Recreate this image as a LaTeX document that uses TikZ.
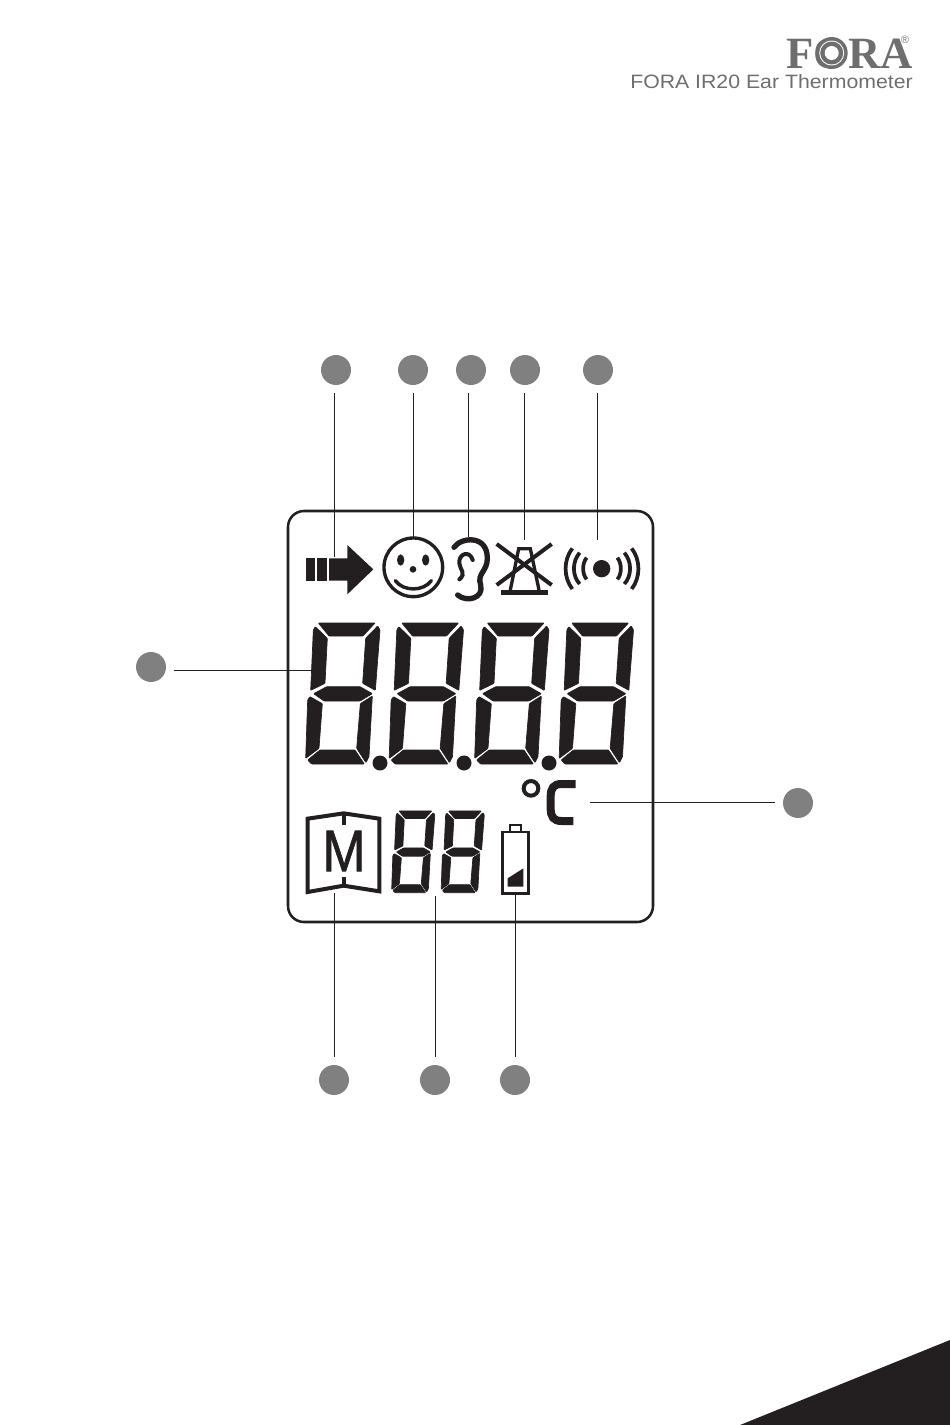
\documentclass[tikz,border=0pt]{standalone}
\usepackage{fontspec}
\setmainfont{Liberation Sans}
\newfontfamily\logofont{Liberation Serif}
\newfontfamily\lcdfont[FakeBold=1.2]{Liberation Sans}
\usetikzlibrary{positioning}
\definecolor{lcdblack}{HTML}{231F20}
\definecolor{logogray}{HTML}{6E6E6E}
\definecolor{markgray}{HTML}{808080}
\tikzset{
    callout/.style={circle, fill=markgray, minimum size=22.5pt, inner sep=0pt, outer sep=6pt},
    leader/.style={draw=lcdblack, line width=0.6pt},
    segment/.style={fill=lcdblack, draw=lcdblack, line width=0.5pt, rounded corners=0.5pt},
    icon/.style={draw=lcdblack, line width=2.5pt}
}
\newcommand{\lcddigit}[3]{
    \begin{scope}[shift={(#1,#2)}, x=0.25pt, y=-0.25pt, scale=#3]
        \path [segment] (70,39) -- (240,39) -- (204,78) -- (102,78) -- cycle;
        \path [segment] (61,50) -- (97,85) -- (90,220) -- (47,241) -- (55,60) -- cycle;
        \path [segment] (248,48) -- (255,60) -- (241,241) -- (203,220) -- (212,85) -- cycle;
        \path [segment] (56,251) -- (95,230) -- (195,230) -- (232,251) -- (195,273) -- (87,273) -- cycle;
        \path [segment] (45,260) -- (82,281) -- (72,415) -- (32,445) -- (38,270) -- cycle;
        \path [segment] (232,258) -- (196,281) -- (185,415) -- (213,458) -- (222,440) -- cycle;
        \path [segment] (38,450) -- (75,420) -- (180,420) -- (208,462) -- (50,462) -- cycle;
    \end{scope}
}
\begin{document}
\begin{tikzpicture}[x=0.75pt, y=-0.75pt]
    \useasboundingbox (0,0) rectangle (950,1425);

    \fill [lcdblack] (740,1425) -- (950,1340) -- (950,1425) -- cycle;

    \node [font=\logofont\bfseries\fontsize{33.5}{33.5}\selectfont, text=logogray, inner sep=0pt, anchor=base east] (Nlogo) at (913,68) {FORA};
    \fill [logogray] (831.7,53) circle (16);
    \fill [white] (831.7,53) circle (12.5);
    \fill [logogray] (831.7,53) circle (11.5);
    \fill [white] (831.7,53) circle (7);
    \node [font=\fontsize{8}{8}\selectfont, text=logogray, inner sep=0pt] (Nreg) at (905,40) {®};
    \node [xscale=1.1, font=\fontsize{14.5}{14.5}\selectfont, text=logogray, inner sep=0pt, anchor=base east] (Ntitle) at (913,88) {FORA IR20 Ear Thermometer};

    \draw [draw=lcdblack, line width=1.9pt, rounded corners=12pt] (288,511) rectangle (653,922);

    \lcddigit{295}{610}{1}
    \lcddigit{378.5}{610}{1}
    \lcddigit{464}{610}{1}
    \lcddigit{548.5}{610}{1}
    \fill [lcdblack] (380,763) circle (7.5);
    \fill [lcdblack] (464,763) circle (7.5);
    \fill [lcdblack] (549,763) circle (7.5);

    \lcddigit{385.5}{803.4}{0.58}
    \lcddigit{435}{803.4}{0.58}

    \begin{scope}[shift={(290,510)}, x=0.25pt, y=-0.25pt]
        \fill [lcdblack] (48,145) rectangle (76,212);
        \fill [lcdblack] (82,145) rectangle (111,212);
        \fill [lcdblack] (117,145) -- (172,145) -- (172,105) -- (250,178) -- (172,253) -- (172,212) -- (117,212) -- cycle;

        \draw [icon] (370,172) circle (88);
        \fill [lcdblack] (332,150) ellipse (11 and 17);
        \fill [lcdblack] (407,150) ellipse (11 and 17);
        \fill [lcdblack] (369,178) circle (10);
        \draw [icon, line width=2.6pt, line cap=round] (316,212) .. controls (340,245) and (400,245) .. (424,212);

        \draw [icon, line width=4pt, line cap=round] (492,112) .. controls (512,82) and (592,72) .. (592,145) .. controls (592,185) and (560,190) .. (572,225) .. controls (582,265) and (530,278) .. (503,255);
        \draw [icon, line width=3pt, line cap=round] (548,150) .. controls (540,120) and (505,130) .. (508,160) .. controls (510,180) and (530,190) .. (508,208);

        \draw [icon] (661,240) -- (686,116) -- (721,116) -- (747,240);
        \fill [lcdblack] (632,240) rectangle (775,254);
        \draw [icon, line width=3pt] (620,102) -- (785,225);
        \draw [icon, line width=3pt] (785,102) -- (620,225);

        \fill [lcdblack] (935,176) circle (26);
        \draw [icon, line width=2.8pt] (890,143) .. controls (876,160) and (876,192) .. (890,208);
        \draw [icon, line width=2.8pt] (869,128) .. controls (846,155) and (846,197) .. (869,222);
        \draw [icon, line width=2.8pt] (847,115) .. controls (820,150) and (820,202) .. (847,237);
        \draw [icon, line width=2.8pt] (982,143) .. controls (996,160) and (996,192) .. (982,208);
        \draw [icon, line width=2.8pt] (1003,128) .. controls (1026,155) and (1026,197) .. (1003,222);
        \draw [icon, line width=2.8pt] (1025,115) .. controls (1052,150) and (1052,202) .. (1025,237);
    \end{scope}

    \begin{scope}[shift={(295,770)}, x=0.25pt, y=-0.25pt]
        \draw [icon, line width=3pt] (708,55) circle (22);
        \draw [icon, line width=6pt] (842,42) -- (800,42) .. controls (775,42) and (767,55) .. (767,80) -- (767,115) .. controls (767,140) and (775,153) .. (800,153) -- (835,153);

        \draw [icon, line width=3pt, miter limit=4] (38,146) -- (146,130) -- (253,146) -- (253,364) -- (146,347) -- (38,366) -- cycle;
        \draw [icon, line width=3pt] (146,130) -- (146,166);
        \draw [icon, line width=3pt] (146,320) -- (146,347);

        \draw [icon, line width=1.75pt] (622,186) rectangle (700,370);
        \draw [icon, line width=1.5pt] (646,185) -- (646,165) -- (677,165) -- (677,185);
        \fill [lcdblack] (638,325) -- (685,295) -- (685,350) -- (638,350) -- cycle;
    \end{scope}

    \node [xscale=0.88, font=\lcdfont\fontsize{44}{44}\selectfont, text=lcdblack, inner sep=0pt] (Nm) at (344,851) {M};

    \node [callout] (Na) at (336,370) {};
    \node [callout] (Nb) at (413,370) {};
    \node [callout] (Nc) at (471,370) {};
    \node [callout] (Nd) at (525,370) {};
    \node [callout] (Ne) at (598,370) {};
    \node [callout] (Nf) at (151,667) {};
    \node [callout] (Ng) at (798,803) {};
    \node [callout] (Nh) at (334,1080) {};
    \node [callout] (Ni) at (435,1080) {};
    \node [callout] (Nj) at (515,1080) {};

    \coordinate (Ea) at (334,557);
    \coordinate (Eb) at (413,537);
    \coordinate (Ec) at (468,537);
    \coordinate (Ed) at (524.5,540);
    \coordinate (Ee) at (597.5,540);
    \coordinate (Ef) at (312,670);
    \coordinate (Eg) at (590,802);
    \coordinate (Eh) at (334.5,893);
    \coordinate (Ei) at (435.5,896);
    \coordinate (Ej) at (515.5,895);

    \draw [leader] (Na.south -| Ea) -- (Ea);
    \draw [leader] (Nb.south -| Eb) -- (Eb);
    \draw [leader] (Nc.south -| Ec) -- (Ec);
    \draw [leader] (Nd.south -| Ed) -- (Ed);
    \draw [leader] (Ne.south -| Ee) -- (Ee);
    \draw [leader] (Nf.east |- Ef) -- (Ef);
    \draw [leader] (Ng.west |- Eg) -- (Eg);
    \draw [leader] (Nh.north -| Eh) -- (Eh);
    \draw [leader] (Ni.north -| Ei) -- (Ei);
    \draw [leader] (Nj.north -| Ej) -- (Ej);
\end{tikzpicture}
\end{document}
